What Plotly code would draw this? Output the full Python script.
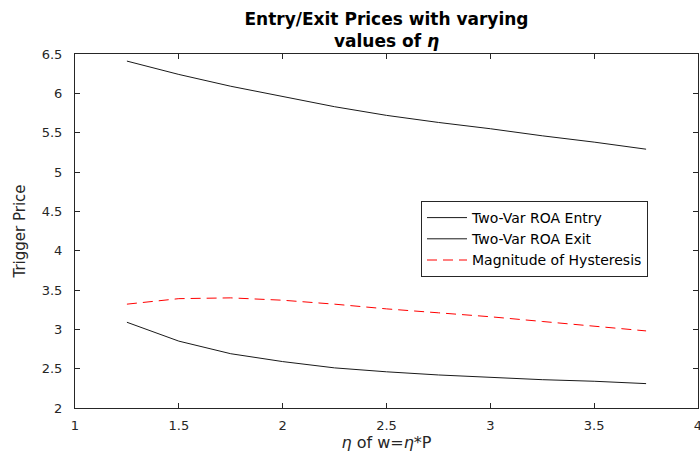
import plotly.graph_objects as go

eta = [1.25, 1.5, 1.75, 2.0, 2.25, 2.5, 2.75, 3.0, 3.25, 3.5, 3.75]
entry = [6.41, 6.24, 6.09, 5.96, 5.83, 5.72, 5.63, 5.55, 5.46, 5.38, 5.29]
exit_ = [3.09, 2.85, 2.69, 2.59, 2.51, 2.46, 2.42, 2.39, 2.36, 2.34, 2.31]
hyst = [3.32, 3.39, 3.40, 3.37, 3.32, 3.26, 3.21, 3.16, 3.10, 3.04, 2.98]

names = ["Two-Var ROA Entry", "Two-Var ROA Exit", "Magnitude of Hysteresis"]
x_ticks = [1, 1.5, 2, 2.5, 3, 3.5, 4]
y_ticks = [2, 2.5, 3, 3.5, 4, 4.5, 5, 5.5, 6, 6.5]

FONT = "DejaVu Sans, Liberation Sans, Arial, sans-serif"
AX = "#262626"

fig = go.Figure()
fig.add_trace(go.Scatter(x=eta, y=entry, mode="lines", name=names[0],
                         line=dict(color="#1a1a1a", width=1)))
fig.add_trace(go.Scatter(x=eta, y=exit_, mode="lines", name=names[1],
                         line=dict(color="#1a1a1a", width=1)))
fig.add_trace(go.Scatter(x=eta, y=hyst, mode="lines", name=names[2],
                         line=dict(color="#ff0000", width=1, dash="10px,6px")))

axis_common = dict(showline=True, linecolor=AX, linewidth=1, mirror="ticks",
                   ticks="inside", ticklen=5, tickcolor=AX, showgrid=False,
                   zeroline=False, automargin=False, ticklabeloverflow="allow",
                   tickfont=dict(family=FONT, size=13, color=AX))

fig.update_layout(
    width=700, height=455,
    margin=dict(l=75, r=2, t=54, b=47),
    paper_bgcolor="white", plot_bgcolor="white",
    font=dict(family=FONT, color=AX),
    title=dict(text="<b>Entry/Exit Prices with varying<br>values of <i>η</i></b>",
               x=386.5 / 700, xanchor="center", xref="container",
               y=0.96, yanchor="top", pad=dict(t=7),
               font=dict(family=FONT, size=17, color="#000000")),
    xaxis=dict(range=[1, 4], tickvals=x_ticks, ticktext=[str(v) for v in x_ticks],
               title=dict(text="<i>η</i> of w=<i>η</i>*P", font=dict(family=FONT, size=16, color=AX),
                          standoff=4),
               ticklabelstandoff=5, **axis_common),
    yaxis=dict(range=[2, 6.5], tickvals=y_ticks, ticktext=[f"{v:g}" for v in y_ticks],
               title=dict(text="Trigger Price", font=dict(family=FONT, size=15, color=AX),
                          standoff=12),
               ticklabelstandoff=9, **axis_common),
    legend=dict(x=(421 - 75) / 623, y=(408 - 201) / 354, xanchor="left", yanchor="top",
                bordercolor=AX, borderwidth=1, bgcolor="white",
                font=dict(family=FONT, size=14, color="#000000"),
                tracegroupgap=0, itemwidth=40),
    showlegend=True,
)

fig.write_html("out.html", config={"displayModeBar": False},
               post_script="document.body.style.margin='0';")
